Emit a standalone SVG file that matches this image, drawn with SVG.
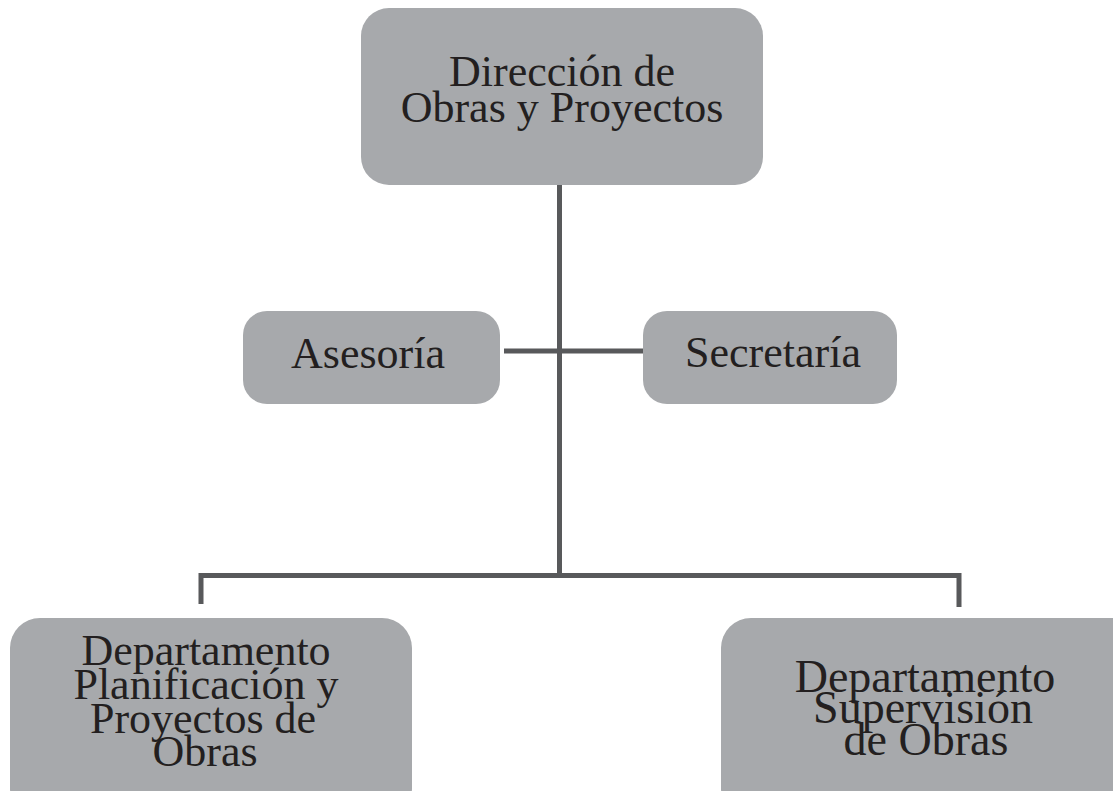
<svg xmlns="http://www.w3.org/2000/svg" width="1113" height="791" viewBox="0 0 1113 791">
<style>
.box{fill:#a7a9ac}
.ln{stroke:#58595b;stroke-width:5;fill:none}
text{font-family:"Liberation Serif","Times New Roman",serif;fill:#231f20;text-anchor:middle;font-size:44px}
</style>
<rect width="1113" height="791" fill="#ffffff"/>
<g id="connectors">
<line class="ln" x1="559.5" y1="185" x2="559.5" y2="576"/>
<line class="ln" x1="504" y1="351" x2="645" y2="351"/>
<path class="ln" d="M201,604 V575.5 H959 V607"/>
</g>
<g id="direccion">
<rect class="box" x="361" y="8" width="402" height="177" rx="28"/>
<text x="562" y="86">Dirección de</text>
<text x="562" y="122">Obras y Proyectos</text>
</g>
<g id="asesoria">
<rect class="box" x="243" y="311" width="257" height="93" rx="24"/>
<text x="368" y="368">Asesoría</text>
</g>
<g id="secretaria">
<rect class="box" x="643" y="311" width="254" height="93" rx="24"/>
<text x="773" y="367">Secretaría</text>
</g>
<g id="dep-planificacion">
<rect class="box" x="10" y="618" width="402" height="200" rx="30"/>
<text x="206" y="665">Departamento</text>
<text x="206" y="699">Planificación y</text>
<text x="203" y="733">Proyectos de</text>
<text x="205" y="766">Obras</text>
</g>
<g id="dep-supervision">
<rect class="box" x="721" y="618" width="420" height="200" rx="30"/>
<text x="925" y="692" style="font-size:46px">Departamento</text>
<text x="923" y="723" style="font-size:46px">Supervisión</text>
<text x="926" y="755" style="font-size:46px">de Obras</text>
</g>
</svg>
